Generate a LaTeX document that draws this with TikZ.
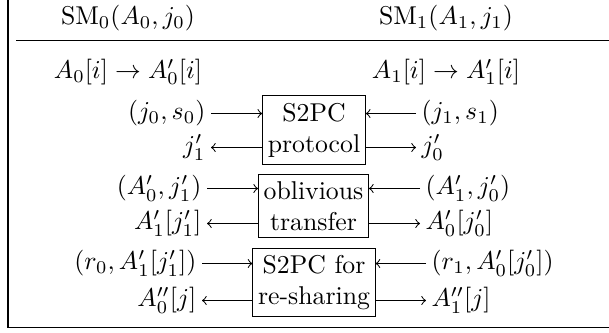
\documentclass[tikz,border=0pt]{standalone}
\usetikzlibrary{positioning}
\begin{document}
\begin{tikzpicture}[x=0.3884pt, y=-0.3884pt,
		lbl/.style={inner sep=2pt, text height=7.5pt, text depth=2.5pt},
		proc/.style={draw, align=center, inner xsep=2pt, inner ysep=2.8pt}]
		\useasboundingbox (0,0) rectangle (609,332);
		\draw [line width=0.65pt] (7.7,0) -- (7.7,327.5) -- (609,327.5);
		\draw [line width=0.5pt] (16,40.7) -- (609,40.7);
		\node (sm0) at (128,18) {$\mathrm{SM}_0(A_0, j_0)$};
		\node (sm1) at (446,18) {$\mathrm{SM}_1(A_1, j_1)$};
		\node (perm0) at (128,72) {$A_0[i] \to A_0'[i]$};
		\node (perm1) at (446,72) {$A_1[i] \to A_1'[i]$};
		\node [proc] (s2pc) at (314,130) {S2PC\\protocol};
		\node [proc] (ot) at (313.5,206) {oblivious\\transfer};
		\node [proc] (reshare) at (314,282.5) {S2PC for\\re-sharing};
		\node [lbl, anchor=east] (l1) at (211,113.5) {$(j_0, s_0)$};
		\node [lbl, anchor=east] (l2) at (211,147.5) {$j_1'$};
		\node [lbl, anchor=east] (l3) at (207,188.5) {$(A_0', j_1')$};
		\node [lbl, anchor=east] (l4) at (207,223.5) {$A_1'[j_1']$};
		\node [lbl, anchor=east] (l5) at (202,263.5) {$(r_0, A_1'[j_1'])$};
		\node [lbl, anchor=east] (l6) at (202,300.5) {$A_0''[j]$};
		\node [lbl, anchor=west] (r1) at (416,113.5) {$(j_1, s_1)$};
		\node [lbl, anchor=west] (r2) at (416,147.5) {$j_0'$};
		\node [lbl, anchor=west] (r3) at (420,188.5) {$(A_1', j_0')$};
		\node [lbl, anchor=west] (r4) at (420,223.5) {$A_0'[j_0']$};
		\node [lbl, anchor=west] (r5) at (426,263.5) {$(r_1, A_0'[j_0'])$};
		\node [lbl, anchor=west] (r6) at (426,300.5) {$A_1''[j]$};
		\draw [->] (l1) -- (l1 -| s2pc.west);
		\draw [->] (s2pc.west |- l2) -- (l2);
		\draw [->] (r1) -- (r1 -| s2pc.east);
		\draw [->] (s2pc.east |- r2) -- (r2);
		\draw [->] (l3) -- (l3 -| ot.west);
		\draw [->] (ot.west |- l4) -- (l4);
		\draw [->] (r3) -- (r3 -| ot.east);
		\draw [->] (ot.east |- r4) -- (r4);
		\draw [->] (l5) -- (l5 -| reshare.west);
		\draw [->] (reshare.west |- l6) -- (l6);
		\draw [->] (r5) -- (r5 -| reshare.east);
		\draw [->] (reshare.east |- r6) -- (r6);
	\end{tikzpicture}
\end{document}
